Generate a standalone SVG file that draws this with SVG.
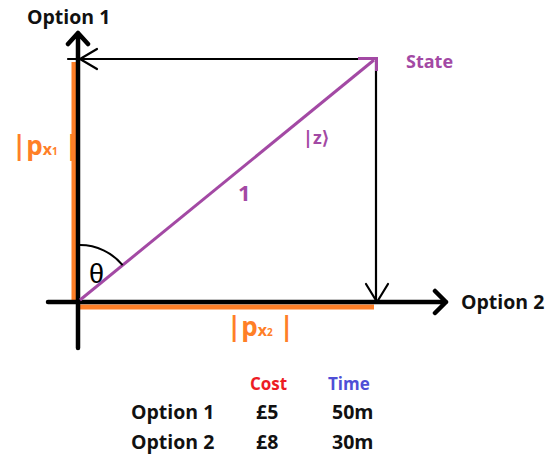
<svg xmlns="http://www.w3.org/2000/svg" width="553" height="459" viewBox="0 0 553 459">
<style>
.t{font-family:"Open Sans","Liberation Sans",sans-serif;font-weight:bold}
.k{fill:#111}
.o{fill:#ff7f27}
.pu{fill:#a349a4}
.ax{stroke:#000;stroke-width:4.5;fill:none;stroke-linecap:round;stroke-linejoin:round}
.th{stroke:#000;stroke-width:2.2;fill:none;stroke-linecap:round}
</style>
<rect width="553" height="459" fill="#fff"/>
<g id="connectors">
<line x1="74" y1="62" x2="74" y2="300" stroke="#ff7f27" stroke-width="5"/>
<line x1="80" y1="307" x2="374" y2="307" stroke="#ff7f27" stroke-width="5"/>
<path class="th" d="M68 59 H376 V301"/>
<path class="th" d="M97 49 L80 59 L97 69"/>
<path class="th" d="M366 284 L377 302 L388 284"/>
<path class="ax" d="M78 348 V33 M68 44 L78 33 L88 44"/>
<path class="ax" d="M48 302 H446 M435 291 L446 302 L435 313"/>
<line x1="80" y1="300" x2="374" y2="60" stroke="#a349a4" stroke-width="3"/>
<path d="M358 58.5 H376.5 V71" stroke="#a349a4" stroke-width="3" fill="none"/>
<path d="M80 245 A55 55 0 0 1 122.6 265.2" stroke="#000" stroke-width="2" fill="none"/>
</g>
<g id="axis1"><text class="t k" x="27" y="24" font-size="19.5">Option 1</text></g>
<g id="axis2"><text class="t k" x="461" y="309" font-size="19.5">Option 2</text></g>
<g id="state"><text class="t pu" x="406" y="68" font-size="18">State</text></g>
<g id="ket"><text class="t pu" x="303" y="144" font-size="18">|z⟩</text></g>
<g id="one"><text class="t pu" x="238" y="201" font-size="22">1</text></g>
<g id="theta"><text x="89" y="283" font-family="Liberation Sans,sans-serif" font-size="27" fill="#000">θ</text></g>
<g id="px1"><text class="t o" x="12" y="155" font-size="26">|p<tspan font-size="16">x</tspan><tspan font-size="10">1</tspan> |</text></g>
<g id="px2"><text class="t o" x="227" y="336" font-size="26">|p<tspan font-size="16">x</tspan><tspan font-size="10">2</tspan> |</text></g>
<g id="table">
<text class="t" x="250" y="390" font-size="17" fill="#ed1c24">Cost</text>
<text class="t" x="328" y="390" font-size="17" fill="#4f4fd6">Time</text>
<text class="t k" x="131" y="419" font-size="19.5">Option 1</text>
<text class="t k" x="256" y="419" font-size="19.5">£5</text>
<text class="t k" x="332" y="419" font-size="19.5">50m</text>
<text class="t k" x="131" y="449" font-size="19.5">Option 2</text>
<text class="t k" x="256" y="449" font-size="19.5">£8</text>
<text class="t k" x="332" y="449" font-size="19.5">30m</text>
</g>
</svg>
